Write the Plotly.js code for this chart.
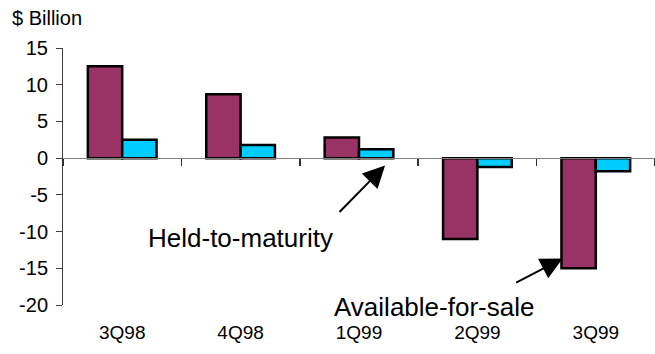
<!DOCTYPE html>
<html>
<head>
<meta charset="utf-8">
<script src="https://cdn.plot.ly/plotly-3.0.1.min.js"></script>
<style>
  html, body { margin: 0; padding: 0; background: #fff; }
  #chart { width: 655px; height: 354px; }
</style>
</head>
<body>
<div id="chart"></div>
<script>
// Quarterly change in securities holdings, $ billion
const quarters = ['3Q98', '4Q98', '1Q99', '2Q99', '3Q99'];
const availableForSale = [12.5, 8.7, 2.8, -11.0, -15.0];
const heldToMaturity = [2.5, 1.8, 1.2, -1.2, -1.8];
const yTicks = [-20, -15, -10, -5, 0, 5, 10, 15];

const FONT = '"Liberation Sans", Arial, sans-serif';
const outline = { color: '#000000', width: 2.5 };

const traces = [
  {
    type: 'bar', name: 'Available-for-sale',
    x: quarters, y: availableForSale,
    marker: { color: '#993366', line: outline },
    hoverinfo: 'x+y'
  },
  {
    type: 'bar', name: 'Held-to-maturity',
    x: quarters, y: heldToMaturity,
    marker: { color: '#00CCFF', line: outline },
    hoverinfo: 'x+y'
  }
];

// fraction of the plot height where y = 0 sits
const yMin = -20, yMax = 15;
const zeroFrac = (0 - yMin) / (yMax - yMin);

const layout = {
  width: 655, height: 354,
  margin: { l: 63, r: 0, t: 48, b: 49 },
  paper_bgcolor: '#ffffff', plot_bgcolor: '#ffffff',
  font: { family: FONT, size: 19, color: '#000000' },
  showlegend: false,
  barmode: 'group', bargap: 0.42, bargroupgap: 0,
  xaxis: {
    type: 'category', range: [-0.5, 4.5],
    anchor: 'free', position: zeroFrac,
    showline: true, linecolor: '#808080', linewidth: 1,
    ticks: 'outside', tickson: 'boundaries', ticklen: 7, tickwidth: 1.5, tickcolor: '#303030',
    ticklabelstandoff: 157,
    tickfont: { family: FONT, size: 19 },
    showgrid: false, zeroline: false, fixedrange: true
  },
  yaxis: {
    range: [yMin, yMax], tickvals: yTicks, ticktext: yTicks.map(String),
    showline: true, linecolor: '#404040', linewidth: 1,
    ticks: 'outside', ticklen: 6, tickwidth: 1, tickcolor: '#404040',
    ticklabelstandoff: 4,
    tickfont: { family: FONT, size: 20 },
    showgrid: false, zeroline: false, fixedrange: true
  },
  annotations: [
    {
      xref: 'paper', yref: 'paper', x: -0.0895, y: 1.117,
      xanchor: 'left', yanchor: 'middle', showarrow: false,
      text: '$ Billion', font: { family: FONT, size: 20 }
    },
    {
      xref: 'x', yref: 'y', x: 0.995, y: -10.9,
      xanchor: 'center', yanchor: 'middle', showarrow: false,
      text: 'Held-to-maturity', font: { family: FONT, size: 26 }
    },
    {
      xref: 'x', yref: 'y', x: 2.22, y: -1.0,
      text: '', showarrow: true, ax: -47, ay: 48,
      arrowhead: 2, arrowsize: 2.2, arrowwidth: 2, arrowcolor: '#000000', standoff: 0
    },
    {
      xref: 'paper', yref: 'paper', x: 0.627, y: -0.008,
      xanchor: 'center', yanchor: 'middle', showarrow: false,
      text: 'Available-for-sale', font: { family: FONT, size: 26 }
    },
    {
      xref: 'x', yref: 'y', x: 3.72, y: -13.66,
      text: '', showarrow: true, ax: -48, ay: 25,
      arrowhead: 2, arrowsize: 2.2, arrowwidth: 2, arrowcolor: '#000000', standoff: 0
    }
  ]
};

Plotly.newPlot('chart', traces, layout, { displayModeBar: false, staticPlot: true });
</script>
</body>
</html>
